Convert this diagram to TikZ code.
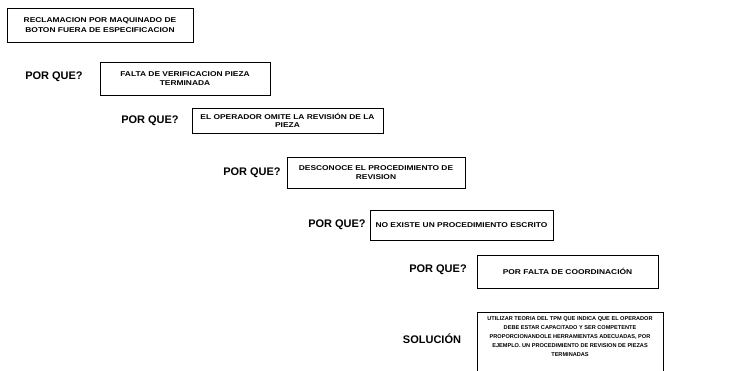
\documentclass[tikz,border=0pt]{standalone}
\usepackage{fontspec}
\setmainfont{Liberation Sans}
\newfontfamily\boxfont[FakeStretch=1.2]{Liberation Sans}
\usetikzlibrary{positioning}

\tikzset{
  whybox/.style={draw, line width=0.8pt, align=center, inner sep=1pt,
    font=\boxfont\bfseries\fontsize{7}{9.5}\selectfont},
  whylabel/.style={font=\bfseries\fontsize{11}{12}\selectfont},
}

\begin{document}
\begin{tikzpicture}[x=1pt, y=-1pt]

        % === Page frame (750 x 371) ===
        \clip (0, 0) rectangle (750, 371);

        % === Problem ===
        \node[whybox, minimum width=186pt, minimum height=34pt] (b0) at (100, 25)
            {RECLAMACION POR MAQUINADO DE\\BOTON FUERA DE ESPECIFICACION};

        % === Five whys ===
        \node[whylabel] (q1) at (54, 77) {POR QUE?};
        \node[whybox, minimum width=170pt, minimum height=33pt] (b1) at (185, 78.5)
            {FALTA DE VERIFICACION PIEZA\\TERMINADA};

        \node[whylabel] (q2) at (150, 121) {POR QUE?};
        \node[whybox, minimum width=191pt, minimum height=25pt,
              font=\boxfont\bfseries\fontsize{7}{8}\selectfont] (b2) at (287.5, 120.5)
            {EL OPERADOR OMITE LA REVISIÓN DE LA\\PIEZA};

        \node[whylabel] (q3) at (252, 173) {POR QUE?};
        \node[whybox, minimum width=178pt, minimum height=31pt] (b3) at (376, 172.5)
            {DESCONOCE EL PROCEDIMIENTO DE\\REVISION};

        \node[whylabel] (q4) at (337, 225) {POR QUE?};
        \node[whybox, minimum width=183pt, minimum height=30pt] (b4) at (461.5, 225)
            {NO EXISTE UN PROCEDIMIENTO ESCRITO};

        \node[whylabel] (q5) at (438, 270) {POR QUE?};
        \node[whybox, minimum width=181pt, minimum height=33pt] (b5) at (567.5, 271.5)
            {POR FALTA DE COORDINACIÓN};

        % === Solution (box runs off the bottom edge) ===
        \node[whylabel] (sol) at (432, 339) {SOLUCIÓN};
        \node[whybox, anchor=north, minimum width=186pt,
              text depth=24pt, inner sep=4pt,
              font=\bfseries\fontsize{5.6}{9}\selectfont] (b6) at (570, 312)
            {UTILIZAR TEORIA DEL TPM QUE INDICA QUE EL OPERADOR\\
             DEBE ESTAR CAPACITADO Y SER COMPETENTE\\
             PROPORCIONANDOLE HERRAMIENTAS ADECUADAS, POR\\
             EJEMPLO. UN PROCEDIMIENTO DE REVISION DE PIEZAS\\
             TERMINADAS};

\end{tikzpicture}
\end{document}
